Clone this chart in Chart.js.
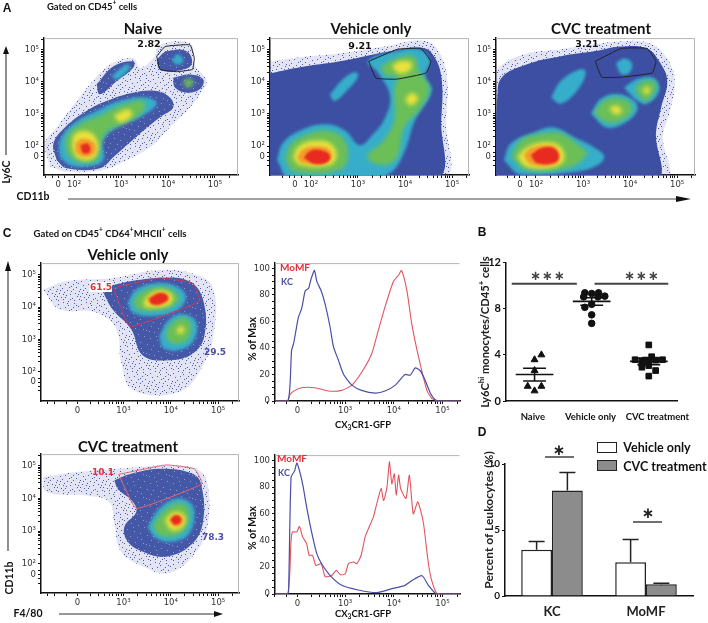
<!DOCTYPE html>
<html>
<head>
<meta charset="utf-8">
<title>Figure</title>
<script src="https://cdn.jsdelivr.net/npm/chart.js@4"></script>
<style>
html, body { margin: 0; padding: 0; background: #fff; }
#page { position: relative; width: 708px; height: 623px; overflow: hidden; font-family: Lato, sans-serif; color: #111; }
#page canvas { position: absolute; }
#page svg { position: absolute; left: 0; top: 0; }
.t { position: absolute; white-space: nowrap; font-weight: 700; transform: translate(-50%, -50%); }
.t sup { font-size: 70%; line-height: 0; }
.t sub { font-size: 70%; line-height: 0; }
.box { position: absolute; border: 1.5px solid #222; box-sizing: border-box; }
</style>
</head>
<body>
<div id="page"></div>
<script>
// ---- axis ticks (values are log10 decades of the flow axes) ----
var flowXTicksA = [1.66, 2, 3, 4, 5];
var flowYTicks = [1.67, 2, 3, 4, 5];
var flowXTicksC = [2.03, 3, 4, 5];
var flowLabelsA = ['0', '10²', '10³', '10⁴', '10⁵'];
var flowLabelsC = ['0', '10³', '10⁴', '10⁵'];
var flowMinor = [1.4, 1.55, 1.8, 2.3, 2.48, 2.6, 2.7, 2.78, 2.85, 2.9, 2.95, 3.3, 3.48, 3.6, 3.7, 3.78, 3.85, 3.9, 3.95, 4.3, 4.48, 4.6, 4.7, 4.78, 4.85, 4.9, 4.95, 5.3];
var histXTicks = [2.02, 3, 4, 5];
var histYMajor = [0, 20, 40, 60, 80, 100];
var histYMinor = [5, 10, 15, 25, 30, 35, 45, 50, 55, 65, 70, 75, 85, 90, 95];

// ---- Panel A, Naive: density contours, outer to inner ----
var naiveFringe = [[[1.49,1.37],[1.38,2.08],[1.63,2.59],[1.95,3.2],[2.34,3.92],[2.77,4.53],[3.26,4.73],[3.4,4.43],[3.69,4.73],[3.83,5.14],[4.47,5.19],[4.57,4.53],[4.82,4.02],[4.68,3.61],[4.47,3.2],[4.04,2.59],[3.62,1.98],[3.12,1.57],[2.62,1.27],[1.84,1.21]]];
var naiveBlue = [
  [[1.63,1.57],[1.56,2.08],[1.81,2.59],[2.27,3.1],[2.7,3.41],[3.26,3.66],[3.76,3.71],[4.04,3.51],[4.11,3.2],[3.83,2.9],[3.4,2.39],[2.84,1.67],[2.55,1.32],[1.84,1.32]],
  [[2.48,3.92],[2.84,4.48],[3.26,4.63],[3.26,4.43],[2.91,4.02],[2.55,3.61]],
  [[3.76,4.68],[3.97,4.94],[4.4,4.94],[4.5,4.53],[4.18,4.33],[3.83,4.38]],
  [[4.11,4.12],[4.47,4.22],[4.75,4.07],[4.68,3.77],[4.4,3.66],[4.15,3.82]]
];
var naiveCyan = [
  [[1.7,1.67],[1.7,2.18],[1.98,2.69],[2.48,3.1],[2.98,3.41],[3.55,3.51],[3.76,3.31],[3.4,2.9],[2.91,2.59],[2.62,2.18],[2.62,1.57],[2.27,1.37],[1.91,1.42]],
  [[4.08,4.68],[4.22,4.84],[4.33,4.63],[4.18,4.53]],
  [[2.8,4.17],[3.12,4.53],[3.19,4.43],[2.91,4.07]]
];
var naiveGreen = [
  [[1.84,1.78],[1.84,2.29],[2.13,2.69],[2.55,2.95],[2.98,3.26],[3.48,3.41],[3.48,3.1],[3.12,2.74],[2.7,2.44],[2.55,1.98],[2.48,1.57],[2.06,1.52]],
  [[4.31,3.97],[4.43,4.1],[4.55,3.97],[4.43,3.82]]
];
var naiveYellow = [
  [[1.95,1.98],[2.02,2.39],[2.34,2.44],[2.52,2.03],[2.41,1.62],[2.09,1.62]],
  [[2.84,2.95],[3.16,3.15],[3.23,2.95],[2.98,2.74]]
];
var naiveOrange = [[[2.02,2.08],[2.16,2.23],[2.41,2.13],[2.45,1.83],[2.27,1.67],[2.06,1.78]]];
var naiveRed = [[[2.13,2.03],[2.3,2.08],[2.34,1.83],[2.2,1.78]]];
var naiveGate = [[3.76,4.79],[3.94,5.09],[4.47,5.14],[4.56,4.73],[4.52,4.38],[4.18,4.31],[3.83,4.38],[3.76,4.79]];

// ---- Panel A, Vehicle only ----
var vehFringe = [[[1.08,4.63],[1.77,4.76],[2.62,4.88],[3.68,5.12],[4.32,5.28],[4.66,5.06],[4.89,4.17],[4.87,2.8],[4.81,1.0],[1.0,1.0]]];
var vehBlue = [[[1.0,4.2],[1.17,4.27],[1.77,4.45],[2.62,4.63],[3.68,4.94],[4.32,5.06],[4.57,4.88],[4.77,4.17],[4.77,2.8],[4.66,1.0],[1.0,1.0]]];
var vehCyan = [
  [[1.28,1.57],[1.4,2.09],[1.77,2.49],[2.3,2.68],[2.72,2.49],[3.04,2.03],[3.3,2.34],[3.57,2.86],[3.68,3.56],[3.43,4.27],[3.21,4.63],[3.79,4.94],[4.32,5.0],[4.53,4.63],[4.43,4.17],[4.57,3.72],[4.21,2.8],[4.0,1.88],[3.72,1.21],[3.26,1.0],[1.55,1.0]],
  [[2.4,3.6],[2.7,4.1],[2.95,4.3],[3.0,4.15],[2.75,3.7],[2.5,3.4]]
];
var vehGreen = [
  [[1.45,1.57],[1.55,2.03],[1.87,2.34],[2.3,2.49],[2.66,2.28],[2.79,1.73],[2.62,1.27],[1.66,1.21]],
  [[3.49,4.48],[3.79,4.72],[4.19,4.79],[4.3,4.33],[4.51,3.81],[4.34,3.2],[3.98,2.58],[3.83,1.67],[3.55,1.42],[3.19,1.67],[3.55,2.19],[3.77,2.8],[3.77,3.81],[3.83,4.11],[3.55,4.24]]
];
var vehYellow = [
  [[1.62,1.64],[1.72,1.97],[2.02,2.16],[2.4,2.1],[2.55,1.73],[2.4,1.42],[1.77,1.42]],
  [[3.72,4.48],[3.89,4.63],[4.15,4.57],[4.06,4.3],[3.85,4.27]],
  [[4.0,3.47],[4.15,3.65],[4.28,3.47],[4.11,3.26]]
];
var vehOrange = [[[1.7,1.64],[1.83,1.91],[2.09,2.0],[2.36,1.94],[2.45,1.7],[2.3,1.48],[1.83,1.48]]];
var vehRed = [[[1.85,1.64],[1.98,1.85],[2.23,1.88],[2.4,1.73],[2.36,1.52],[2.09,1.45]]];
var vehGate = [[3.23,4.63],[3.38,4.11],[3.83,4.08],[4.45,4.27],[4.55,4.63],[4.34,5.03],[3.83,5.0],[3.23,4.63]];

// ---- Panel A, CVC treatment ----
var cvcFringe = [[[1.12,3.6],[1.2,4.4],[1.75,4.85],[2.5,5.0],[3.2,5.15],[3.8,5.25],[4.4,5.2],[4.75,4.8],[4.95,4.05],[4.85,3.1],[4.7,2.3],[4.75,1.0],[1.0,1.0],[1.0,2.0]]];
var cvcBlue = [[[1.17,3.41],[1.26,4.11],[1.81,4.54],[2.53,4.79],[3.23,4.94],[3.81,5.09],[4.36,5.03],[4.62,4.63],[4.79,4.02],[4.66,3.2],[4.55,2.4],[4.55,1.0],[1.13,1.0],[1.13,1.88]]];
var cvcCyan = [
  [[1.32,1.57],[1.47,2.09],[1.96,2.43],[2.38,2.58],[2.81,2.28],[3.23,1.97],[3.45,1.67],[3.23,1.36],[2.66,1.18],[1.68,1.12]],
  [[2.32,3.5],[2.53,4.02],[2.96,4.39],[3.06,4.27],[2.87,3.72],[2.53,3.32]],
  [[3.17,3.01],[3.38,3.47],[3.72,3.62],[4.09,3.41],[4.15,3.1],[3.87,2.71],[3.51,2.58]],
  [[3.87,3.81],[4.15,4.08],[4.51,4.11],[4.62,3.72],[4.36,3.32],[4.15,3.41]],
  [[3.7,4.57],[3.87,4.72],[4.04,4.57],[3.98,4.27],[3.81,4.24]]
];
var cvcGreen = [
  [[1.47,1.67],[1.68,2.19],[2.17,2.4],[2.53,2.4],[2.96,1.97],[3.09,1.79],[2.74,1.36],[1.81,1.27]],
  [[3.23,3.04],[3.45,3.41],[3.72,3.5],[4.02,3.32],[4.02,3.04],[3.81,2.8],[3.51,2.74]],
  [[4.09,3.78],[4.3,4.02],[4.55,3.96],[4.47,3.56],[4.3,3.41]]
];
var cvcYellow = [
  [[1.6,1.67],[1.81,1.97],[2.23,2.13],[2.53,1.97],[2.6,1.58],[2.38,1.36],[1.81,1.36]],
  [[3.55,3.17],[3.7,3.26],[3.83,3.1],[3.7,2.98]],
  [[4.26,3.75],[4.36,3.84],[4.43,3.72],[4.34,3.62]]
];
var cvcOrange = [[[1.74,1.73],[1.89,1.94],[2.32,2.03],[2.49,1.82],[2.45,1.48],[2.11,1.39],[1.85,1.48]]];
var cvcRed = [[[1.89,1.73],[2.11,1.94],[2.38,1.94],[2.49,1.67],[2.38,1.48],[2.02,1.48]]];
var cvcGate = [[3.26,4.63],[3.4,4.14],[3.81,4.14],[4.47,4.27],[4.55,4.63],[4.36,5.03],[3.81,5.03],[3.26,4.63]];

// ---- Panel C, Vehicle only ----
var c1Fringe = [[[1.3,4.54],[1.79,4.8],[2.77,4.9],[3.76,5.15],[4.54,5.0],[4.89,4.59],[4.92,3.32],[4.68,2.19],[4.18,1.38],[3.2,1.43],[2.95,2.3],[2.85,3.32],[2.42,3.83],[1.65,3.93]]];
var c1Blue = [[[2.56,4.49],[2.81,4.69],[3.76,4.9],[4.39,4.8],[4.68,4.23],[4.71,3.11],[4.46,2.55],[3.97,2.35],[3.41,2.5],[3.16,3.32],[2.77,3.93]]];
var c1Cyan = [
  [[3.09,4.13],[3.27,4.54],[3.76,4.74],[4.18,4.59],[4.32,4.29],[4.11,3.88],[3.55,3.72],[3.2,3.83]],
  [[3.76,3.11],[3.97,3.62],[4.29,3.78],[4.54,3.52],[4.46,2.91],[4.11,2.65],[3.83,2.76]]
];
var c1Green = [
  [[3.2,4.18],[3.37,4.46],[3.76,4.62],[4.08,4.49],[4.18,4.23],[3.97,3.98],[3.55,3.88],[3.3,3.93]],
  [[3.9,3.27],[4.08,3.57],[4.29,3.67],[4.43,3.47],[4.36,3.01],[4.11,2.86],[3.94,2.96]]
];
var c1Yellow = [
  [[3.44,4.23],[3.62,4.46],[3.83,4.52],[4.04,4.34],[3.97,4.08],[3.62,3.98],[3.44,4.03]],
  [[4.11,3.27],[4.22,3.42],[4.29,3.27],[4.18,3.16]]
];
var c1Orange = [[[3.48,4.23],[3.65,4.42],[3.87,4.44],[3.97,4.29],[3.87,4.11],[3.62,4.06]]];
var c1Red = [[[3.55,4.26],[3.73,4.42],[3.9,4.39],[3.94,4.23],[3.76,4.08],[3.58,4.11]]];
var c1Gate = [[2.79,4.59],[3.76,4.9],[4.46,4.74],[4.61,4.18],[3.14,3.4],[2.79,4.59]];

// ---- Panel C, CVC treatment ----
var c2Fringe = [[[1.3,4.65],[2.0,4.8],[2.85,4.9],[4.04,5.0],[4.61,4.85],[4.78,4.39],[4.78,3.18],[4.54,2.37],[3.97,1.72],[3.41,1.92],[2.95,2.37],[2.81,3.18],[2.7,3.89],[2.21,4.09],[1.37,4.19]]];
var c2Blue = [[[2.81,4.55],[3.16,4.75],[3.83,4.9],[4.46,4.75],[4.64,4.44],[4.68,3.28],[4.43,2.58],[3.9,2.22],[3.41,2.37],[3.09,2.68],[3.02,3.13],[3.27,3.58],[3.2,3.89],[2.88,4.29]]];
var c2Cyan = [[[3.51,3.13],[3.76,3.69],[4.11,3.99],[4.39,3.89],[4.5,3.59],[4.39,2.93],[4.04,2.68],[3.69,2.78]]];
var c2Green = [[[3.62,3.18],[3.83,3.59],[4.11,3.84],[4.32,3.79],[4.39,3.48],[4.29,3.03],[4.01,2.83],[3.72,2.93]]];
var c2Yellow = [[[3.87,3.33],[4.04,3.57],[4.25,3.54],[4.32,3.33],[4.22,3.08],[4.01,3.03]]];
var c2Orange = [[[3.96,3.33],[4.08,3.51],[4.24,3.43],[4.25,3.26],[4.11,3.13]]];
var c2Red = [[[3.99,3.36],[4.11,3.48],[4.22,3.38],[4.18,3.23],[4.06,3.21]]];
var c2Gate = [[2.9,4.73],[3.9,5.02],[4.5,4.9],[4.66,4.44],[3.27,3.69],[2.9,4.73]];

// ---- Panel C, histograms ----
var hist1KC = [[1.56,0],[1.82,0],[1.87,13],[1.9,38],[1.94,43],[1.99,53],[2.04,63],[2.11,70],[2.18,83],[2.25,85],[2.3,92],[2.37,98.5],[2.42,90],[2.51,83],[2.59,73],[2.69,56],[2.76,41],[2.86,31],[2.97,20],[3.14,12],[3.34,8],[3.62,6],[3.82,7.5],[4.03,12],[4.23,20],[4.34,19.5],[4.44,25],[4.54,23],[4.64,16],[4.75,6],[4.85,1],[4.99,0],[5.36,0]];
var hist1MoMF = [[1.56,0],[1.82,0],[1.87,5],[1.97,8],[2.11,10],[2.38,10],[2.66,7.5],[2.93,8],[3.14,12],[3.38,24],[3.55,36],[3.68,53],[3.82,71],[3.99,90],[4.1,95],[4.16,98.5],[4.27,83],[4.37,58],[4.51,33],[4.68,8],[4.78,2],[4.92,0],[5.36,0]];
var hist2KC = [[1.55,0],[1.82,0],[1.84,3],[1.89,87.5],[1.96,92],[2.01,98],[2.08,90],[2.14,80],[2.21,65],[2.32,45],[2.42,30],[2.52,22.5],[2.69,14],[2.93,6.5],[3.27,3],[3.65,1],[3.96,4],[4.23,6.5],[4.37,10],[4.58,13.7],[4.71,6.5],[4.88,0],[5.36,0]];
var hist2MoMF = [[1.55,0],[1.82,0],[1.89,40],[1.92,46.5],[2.01,46.5],[2.06,50.6],[2.13,42.6],[2.21,37.7],[2.26,29],[2.33,29],[2.4,21.4],[2.51,22.7],[2.59,13],[2.73,14],[2.82,17.7],[2.9,14.5],[3.0,15],[3.07,22.7],[3.17,24],[3.24,22.7],[3.33,29],[3.41,42.6],[3.48,49],[3.58,57.6],[3.65,67.5],[3.74,79],[3.79,70],[3.86,80],[3.91,99],[3.96,82.5],[4.01,90],[4.05,74],[4.1,89],[4.14,79],[4.25,71.5],[4.32,89],[4.4,60],[4.49,69],[4.54,64],[4.61,53],[4.71,23],[4.78,10],[4.88,0.7],[4.99,0],[5.36,0]];

// ---- Panel B ----
var bCategories = ['Naive', 'Vehicle only', 'CVC treatment'];
var bLabelTicks = [-0.03, 0.98, 2.15];
var bNaive = [[0,3.58],[0.12,4.0],[0,2.64],[-0.12,1.28],[0.12,1.28],[0,0.88]];
var bVehicle = [[0.88,9.38],[1.0,9.32],[1.12,9.38],[0.86,9.03],[1.11,9.03],[1.23,9.09],[0.88,8.12],[1.0,8.38],[1.0,7.47],[1.0,6.73]];
var bCvc = [[2,4.86],[1.76,3.58],[1.88,3.49],[2.05,3.84],[1.94,3.55],[2.12,3.55],[2.24,3.58],[2,3.49],[1.88,2.93],[2.12,2.64],[2,2.16],[1.88,3.21],[2,3.07]];
var bMeans = [2.3, 8.64, 3.44];
var bSemHigh = [2.84, 8.95, 3.7];
var bSemLow = [1.73, 8.3, 3.15];
var bSigLines = [[[-0.4,10.17],[0.74,10.17]], [[1.05,10.17],[2.34,10.17]]];

// ---- Panel D ----
var dCategories = ['KC', 'MoMF'];
var dVehicle = [3.5, 2.55];
var dCvc = [8.0, 0.89];
var dVehicleErr = [4.13, 4.28];
var dCvcErr = [9.36, 0.97];

// ---- colours ----
var page = document.getElementById('page');
var cBlue = '#3c4fa2', cCyan = '#36aecb', cGreen = '#6cbf56', cYellow = '#e9e23c', cOrange = '#f39a2b', cRed = '#e82a20';
var cHistRed = '#e2545f', cHistBlue = '#4a4fa5';
var tickColor = '#333';
// blur radius per density level, outer to inner
var softness = { fringe: 'blur(0.5px)', blue: 'blur(0.7px)', cyan: 'blur(1.6px)', green: 'blur(2.2px)', yellow: 'blur(2px)', orange: 'blur(1.6px)', red: 'blur(1.2px)' };

/**
 * Small repeating tile of dots, used for the speckled edge of the flow clouds
 */
function speckle(bg, color, dots) {
    var c = document.createElement('canvas');
    c.width = 23; c.height = 23;
    var g = c.getContext('2d');
    g.fillStyle = bg; g.fillRect(0, 0, 23, 23);
    g.fillStyle = color;
    dots.forEach(function (d) { g.fillRect(d[0], d[1], 1, 1); });
    return g.createPattern(c, 'repeat');
}
var fringeDots = [[1,2],[6,0],[11,3],[17,1],[21,4],[3,6],[8,5],[14,7],[19,8],[0,10],[5,9],[10,11],[16,10],[22,12],[2,14],[7,13],[13,15],[18,14],[4,18],[9,16],[15,19],[20,17],[1,21],[6,20],[11,22],[17,21],[22,20],[12,8],[3,11],[19,3],[8,18],[14,12],[6,15],[21,15],[10,1],[16,5],[0,17],[13,20]];
var denseDots = [[2,1],[9,3],[15,0],[20,5],[5,7],[12,9],[18,11],[1,13],[8,15],[14,17],[21,19],[4,20],[11,21],[17,4],[7,11],[0,6]];
var fringeFill = speckle('rgba(110,120,195,0.2)', 'rgba(50,66,155,0.85)', fringeDots);
var denseFill = speckle('#4558a8', 'rgba(255,255,255,0.4)', denseDots);

// soft edge for the density fills; the filler draws before this hook, so set it for the next dataset
var softEdge = {
    id: 'softEdge',
    beforeDatasetsDraw: function (chart) {
        var sets = chart.data.datasets;
        chart.ctx.filter = sets[sets.length - 1].soft || 'none';
    },
    afterDatasetDraw: function (chart, args) {
        var next = chart.data.datasets[args.index - 1];
        chart.ctx.filter = next && next.soft ? next.soft : 'none';
    },
    afterDatasetsDraw: function (chart) { chart.ctx.filter = 'none'; }
};
// grey top and right frame line
var frame = {
    id: 'frame',
    afterDraw: function (chart) {
        var a = chart.chartArea, ctx = chart.ctx;
        ctx.save();
        ctx.strokeStyle = '#b4b4b4'; ctx.lineWidth = 1;
        ctx.beginPath();
        ctx.moveTo(a.left, a.top + 0.5); ctx.lineTo(a.right - 0.5, a.top + 0.5);
        if (chart.options.rightFrame) { ctx.lineTo(a.right - 0.5, a.bottom); }
        ctx.stroke();
        ctx.restore();
    }
};
// upward error bars for panel D, from bar elements and the y scale
var errorBars = {
    id: 'errorBars',
    afterDatasetsDraw: function (chart) {
        var ctx = chart.ctx, y = chart.scales.y;
        ctx.save();
        ctx.strokeStyle = '#222'; ctx.lineWidth = 1.5;
        [dVehicleErr, dCvcErr].forEach(function (err, d) {
            chart.getDatasetMeta(d).data.forEach(function (bar, i) {
                var top = y.getPixelForValue(err[i]);
                ctx.beginPath();
                ctx.moveTo(bar.x, bar.y); ctx.lineTo(bar.x, top);
                ctx.moveTo(bar.x - 8, top); ctx.lineTo(bar.x + 8, top);
                ctx.stroke();
            });
        });
        ctx.restore();
    }
};

/**
 * Put a chart on the page so that its plot area is exactly left/top/right/bottom
 */
function place(box, config) {
    var m = { l: 30, t: 6, r: 8, b: box.below || 20 };
    var c = document.createElement('canvas');
    c.width = box.right - box.left + m.l + m.r;
    c.height = box.bottom - box.top + m.t + m.b;
    c.style.left = (box.left - m.l) + 'px';
    c.style.top = (box.top - m.t) + 'px';
    page.appendChild(c);
    config.options.responsive = false;
    config.options.animation = false;
    config.options.layout = { padding: { top: m.t, right: m.r, left: 0, bottom: 0 } };
    config.options.plugins = { legend: { display: false }, tooltip: { enabled: false } };
    config.options.scales.x.afterFit = function (s) { s.height = m.b; };
    config.options.scales.y.afterFit = function (s) { s.width = m.l; };
    return new Chart(c.getContext('2d'), config);
}

function tickScale(min, max, majors, labels, minors, font) {
    var all = majors.concat(minors);
    return {
        type: 'linear', min: min, max: max,
        afterBuildTicks: function (s) { s.ticks = all.map(function (v) { return { value: v }; }); },
        ticks: {
            autoSkip: false, maxRotation: 0, padding: 2, color: tickColor,
            font: font || { family: 'DejaVu Sans', size: 8.5 },
            callback: function (v) { var i = majors.indexOf(v); return i >= 0 ? labels[i] : ''; }
        },
        grid: { drawOnChartArea: false, drawTicks: true, tickLength: 3, color: '#111' },
        border: { color: '#111', width: 1.5 }
    };
}

function polySet(points, fillStyle, soft) {
    return { data: points.concat([points[0]]), showLine: true, fill: 'shape', backgroundColor: fillStyle, soft: soft,
        borderWidth: 0, borderColor: 'transparent', pointRadius: 0, tension: 0.4 };
}

// index 0 is drawn last, so the gate and the hottest level go first
function flowChart(box, xr, yr, xTicks, xLabels, gate, gateColor, levels) {
    var sets = [{ data: gate, showLine: true, fill: false, borderColor: gateColor, borderWidth: 1, pointRadius: 0, tension: 0.1 }];
    levels.forEach(function (lv) {
        lv[0].forEach(function (p) { sets.push(polySet(p, lv[1], lv[2])); });
    });
    place(box, {
        type: 'scatter',
        data: { datasets: sets },
        plugins: [softEdge, frame],
        options: {
            rightFrame: true,
            scales: {
                x: tickScale(xr[0], xr[1], xTicks, xLabels, flowMinor),
                y: tickScale(yr[0], yr[1], flowYTicks, flowLabelsA, flowMinor)
            }
        }
    });
}

function histChart(box, kc, momf) {
    var ys = histYMajor.map(String);
    place(box, {
        type: 'scatter',
        data: { datasets: [
            { data: kc, showLine: true, borderColor: cHistBlue, borderWidth: 1.2, pointRadius: 0, tension: 0.2 },
            { data: momf, showLine: true, borderColor: cHistRed, borderWidth: 1.1, pointRadius: 0, tension: 0.2 }
        ] },
        plugins: [frame],
        options: {
            scales: {
                x: tickScale(1.56, 5.36, histXTicks, flowLabelsC, flowMinor),
                y: tickScale(0, 104, histYMajor, ys, histYMinor)
            }
        }
    });
}

function levels(red, orange, yellow, green, cyan, blue, blueFill, fringe) {
    return [[red, cRed, softness.red], [orange, cOrange, softness.orange], [yellow, cYellow, softness.yellow],
        [green, cGreen, softness.green], [cyan, cCyan, softness.cyan], [blue, blueFill, softness.blue], [fringe, fringeFill, softness.fringe]];
}

flowChart({ left: 44, top: 37, right: 238, bottom: 175 }, [1.36, 5.49], [1.11, 5.35], flowXTicksA, flowLabelsA, naiveGate, '#222',
    levels(naiveRed, naiveOrange, naiveYellow, naiveGreen, naiveCyan, naiveBlue, denseFill, naiveFringe));
flowChart({ left: 270, top: 37, right: 469, bottom: 175 }, [1.13, 5.36], [1.11, 5.35], flowXTicksA, flowLabelsA, vehGate, '#222',
    levels(vehRed, vehOrange, vehYellow, vehGreen, vehCyan, vehBlue, cBlue, vehFringe));
flowChart({ left: 496, top: 37, right: 695, bottom: 175 }, [1.15, 5.38], [1.11, 5.35], flowXTicksA, flowLabelsA, cvcGate, '#222',
    levels(cvcRed, cvcOrange, cvcYellow, cvcGreen, cvcCyan, cvcBlue, cBlue, cvcFringe));
flowChart({ left: 41, top: 262, right: 239, bottom: 401 }, [1.26, 5.44], [1.09, 5.36], flowXTicksC, flowLabelsC, c1Gate, '#c8395a',
    levels(c1Red, c1Orange, c1Yellow, c1Green, c1Cyan, c1Blue, denseFill, c1Fringe));
flowChart({ left: 41, top: 453, right: 239, bottom: 593 }, [1.26, 5.44], [1.11, 5.35], flowXTicksC, flowLabelsC, c2Gate, '#e8636c',
    levels(c2Red, c2Orange, c2Yellow, c2Green, c2Cyan, c2Blue, denseFill, c2Fringe));

histChart({ left: 275, top: 262, right: 460, bottom: 401 }, hist1KC, hist1MoMF);
histChart({ left: 275, top: 454, right: 460, bottom: 594 }, hist2KC, hist2MoMF);

// ---- Panel B: dots, mean and SEM lines ----
function hLine(x, y, half) {
    return { data: [[x - half, y], [x + half, y]], showLine: true, borderColor: '#111', borderWidth: 1.6, pointRadius: 0 };
}
var bSets = [
    { data: bNaive, pointStyle: 'triangle', pointRadius: 4, backgroundColor: '#111', borderColor: '#111' },
    { data: bVehicle, pointStyle: 'circle', pointRadius: 3.3, backgroundColor: '#111', borderColor: '#111' },
    { data: bCvc, pointStyle: 'rect', pointRadius: 4, backgroundColor: '#111', borderColor: '#111' }
];
bMeans.forEach(function (m, i) {
    bSets.push(hLine(i, m, 0.33));
    bSets.push(hLine(i, bSemHigh[i], 0.2));
    bSets.push(hLine(i, bSemLow[i], 0.2));
    bSets.push({ data: [[i, bSemLow[i]], [i, bSemHigh[i]]], showLine: true, borderColor: '#111', borderWidth: 1.6, pointRadius: 0 });
});
bSigLines.forEach(function (s) {
    bSets.push({ data: s, showLine: true, borderColor: '#444', borderWidth: 2, pointRadius: 0 });
});
var bFont = { family: 'Lato', size: 11, weight: 'bold' };
var bX = tickScale(-0.5, 2.5, bLabelTicks, bCategories, [], { family: 'Lato', size: 9.5, weight: 'bold' });
bX.grid.drawTicks = false; bX.ticks.padding = 10; bX.ticks.color = '#111';
var bY = tickScale(0, 12, [0, 4, 8, 12], ['0', '4', '8', '12'], [], bFont);
bY.ticks.color = '#111';
place({ left: 506, top: 260, right: 692, bottom: 401, below: 26 }, { type: 'scatter', data: { datasets: bSets }, options: { scales: { x: bX, y: bY } } });

// ---- Panel D: bars ----
var dBarStyle = { borderColor: '#222', borderWidth: 1.5, categoryPercentage: 0.655, barPercentage: 1 };
var dY = tickScale(0, 10, [0, 5, 10], ['0', '5', '10'], [], { family: 'Lato', size: 10, weight: 'bold' });
dY.ticks.color = '#111';
place({ left: 505, top: 462, right: 693, bottom: 596, below: 26 }, {
    type: 'bar',
    data: { labels: dCategories, datasets: [
        Object.assign({ data: dVehicle, backgroundColor: '#fff' }, dBarStyle),
        Object.assign({ data: dCvc, backgroundColor: '#8c8c8c' }, dBarStyle)
    ] },
    plugins: [errorBars],
    options: { scales: {
        x: { grid: { display: false }, border: { color: '#111', width: 1.5 }, ticks: { color: '#222', padding: 0, font: { family: 'Lato', size: 13, weight: 'bold' } } },
        y: dY
    } }
});

// ---- overlay: arrows and lines ----
var svgNS = 'http://www.w3.org/2000/svg';
var svg = document.createElementNS(svgNS, 'svg');
svg.setAttribute('width', 708); svg.setAttribute('height', 623);
function seg(x1, y1, x2, y2, w, col) {
    var l = document.createElementNS(svgNS, 'line');
    l.setAttribute('x1', x1); l.setAttribute('y1', y1); l.setAttribute('x2', x2); l.setAttribute('y2', y2);
    l.setAttribute('stroke', col); l.setAttribute('stroke-width', w);
    svg.appendChild(l);
}
function head(pts, col) {
    var p = document.createElementNS(svgNS, 'polygon');
    p.setAttribute('points', pts); p.setAttribute('fill', col);
    svg.appendChild(p);
}
seg(68, 199, 680, 199, 1.2, '#444'); head('676,196 691,199 676,202', '#111');
seg(6, 52, 6, 155, 1.2, '#444'); head('3,54 6,46 9,54', '#111');
seg(8, 268, 8, 551, 1.2, '#444'); head('5,271 8,261 11,271', '#111');
seg(59, 614, 216, 614, 1.2, '#333'); head('214,611 223,614 214,617', '#111');
seg(545, 457, 574, 457, 1.3, '#222');
seg(633, 522, 662, 522, 1.3, '#222');
page.appendChild(svg);

// ---- text ----
function text(html, x, y, size, color, extra) {
    var d = document.createElement('div');
    d.className = 't';
    d.innerHTML = html;
    d.style.left = x + 'px'; d.style.top = y + 'px';
    d.style.fontSize = size + 'px';
    if (color) { d.style.color = color; }
    if (extra) { Object.keys(extra).forEach(function (k) { d.style[k] = extra[k]; }); }
    page.appendChild(d);
    return d;
}
var sans = { fontFamily: 'Liberation Sans' };
var wide = { fontFamily: 'DejaVu Sans' };
function rot(base) { return Object.assign({ transform: 'translate(-50%,-50%) rotate(-90deg)' }, base || {}); }

text('A', 7, 8, 12, '#111', sans);
text('C', 7, 233, 12, '#111', sans);
text('B', 482, 232, 12, '#111', sans);
text('D', 482, 432, 12, '#111', sans);
text('Gated on CD45<sup>+</sup> cells', 92, 6, 9.5);
text('Gated on CD45<sup>+</sup> CD64<sup>+</sup>MHCII<sup>+</sup> cells', 110, 233, 9.5);
text('Naive', 143, 28, 15);
text('Vehicle only', 371, 28, 15);
text('CVC treatment', 601, 28, 15);
text('Vehicle only', 128, 254, 15);
text('CVC treatment', 128, 446, 15);
text('2.82', 149, 43, 9.5, '#111', wide);
text('9.21', 360, 45, 9.5, '#111', wide);
text('3.21', 587, 43, 9.5, '#111', wide);
text('CD11b', 33, 196, 10.5);
text('Ly6C', 6, 172, 10.5, '#111', rot());
text('CD11b', 9, 578, 10.5, '#111', rot());
text('F4/80', 28, 613, 10.5);
text('61.5', 101, 287, 9, '#e0303a', Object.assign({ background: '#fff' }, wide));
text('29.5', 215, 352, 9, '#4a4fa5', wide);
text('10.1', 103, 472, 9, '#e0303a', wide);
text('78.3', 213, 537, 9, '#4a4fa5', wide);
text('% of Max', 252, 339, 10.5, '#111', rot());
text('% of Max', 252, 528, 10.5, '#111', rot());
text('CX<sub>3</sub>CR1-GFP', 363, 424, 9.5);
text('CX<sub>3</sub>CR1-GFP', 363, 613, 9.5);
text('MoMF', 295, 267, 10, '#e0303a');
text('KC', 287, 281, 9, '#4a4fa5');
text('MoMF', 292, 458, 10, '#e0303a');
text('KC', 284, 472, 9, '#4a4fa5');
text('Ly6C<sup>hi</sup> monocytes/CD45<sup>+</sup> cells', 484, 332, 11.2, '#222', rot());
text('Percent of Leukocytes (%)', 488, 520, 12, '#222', rot());
text('∗∗∗', 548, 275, 13, '#444', { fontFamily: 'DejaVu Sans', letterSpacing: '1px' });
text('∗∗∗', 642, 275, 13, '#444', { fontFamily: 'DejaVu Sans', letterSpacing: '1px' });
text('∗', 559, 450, 15, '#222', wide);
text('∗', 648, 513, 15, '#222', wide);
text('Vehicle only', 657, 447, 12.5);
text('CVC treatment', 665, 466, 12.5);

var lg1 = document.createElement('div');
lg1.className = 'box'; lg1.style.cssText += 'left:597px;top:442px;width:20px;height:11px;background:#fff;';
page.appendChild(lg1);
var lg2 = document.createElement('div');
lg2.className = 'box'; lg2.style.cssText += 'left:597px;top:460px;width:20px;height:11px;background:#8c8c8c;';
page.appendChild(lg2);
</script>
</body>
</html>
